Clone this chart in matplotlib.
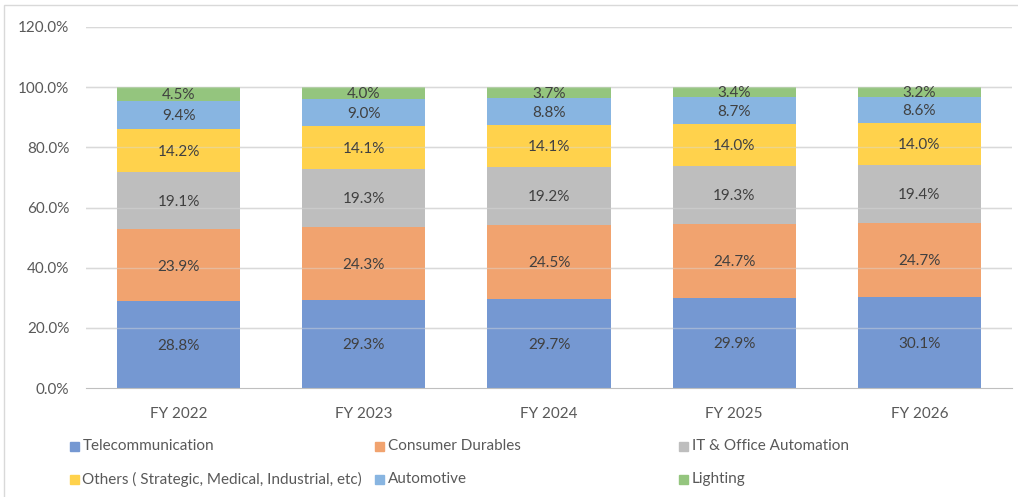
import matplotlib
matplotlib.use("Agg")
import matplotlib.pyplot as plt
from matplotlib.patches import Rectangle
import numpy as np

categories = ["FY 2022", "FY 2023", "FY 2024", "FY 2025", "FY 2026"]
series_names = ["Telecommunication", "Consumer Durables", "IT & Office Automation",
                "Others ( Strategic, Medical, Industrial, etc)", "Automotive", "Lighting"]
telecom = [28.8, 29.3, 29.7, 29.9, 30.1]
consumer = [23.9, 24.3, 24.5, 24.7, 24.7]
it_office = [19.1, 19.3, 19.2, 19.3, 19.4]
others = [14.2, 14.1, 14.1, 14.0, 14.0]
automotive = [9.4, 9.0, 8.8, 8.7, 8.6]
lighting = [4.5, 4.0, 3.7, 3.4, 3.2]
y_ticks = [0, 20, 40, 60, 80, 100, 120]

colors = ["#7598D2", "#F1A36F", "#BEBEBE", "#FFD24C", "#88B5E1", "#94C57E"]
series = [telecom, consumer, it_office, others, automotive, lighting]

plt.rcParams['font.family'] = ['Lato', 'DejaVu Sans']

fig = plt.figure(figsize=(10.18, 4.97), dpi=100)
ax = fig.add_axes([86/1018, 1-388/497, (1012-86)/1018, (388-27)/497])

x = np.arange(len(categories))
bottom = np.zeros(len(categories))
for vals, col, name in zip(series, colors, series_names):
    v = np.array(vals)
    ax.bar(x, v, 0.665, bottom=bottom, color=col, zorder=2, label=name)
    for xi, b, val in zip(x, bottom, v):
        ax.text(xi, b + val/2 - 0.4, f"{val:.1f}%", ha='center', va='center',
                fontsize=11, color='#404040', zorder=4)
    bottom = bottom + v

ax.set_xlim(-0.5, len(categories)-0.5)
ax.set_ylim(0, 120)
ax.set_yticks(y_ticks)
ax.set_yticklabels([f"{t:.1f}%" for t in y_ticks])
ax.set_xticks(x)
ax.set_xticklabels(categories)
ax.tick_params(axis='both', length=0, labelsize=11, colors='#595959')
ax.tick_params(axis='y', pad=12)
ax.tick_params(axis='x', pad=14)
for t in y_ticks[1:]:
    ax.axhline(t, color='#D9D9D9', lw=1, zorder=3, alpha=0.45)
    ax.axhline(t, color='#D9D9D9', lw=1, zorder=1)
for s in ['top', 'right', 'left']:
    ax.spines[s].set_visible(False)
ax.spines['bottom'].set_color('#BFBFBF')
ax.spines['bottom'].set_zorder(3)

# outer chart border
fig.patches.append(Rectangle((4/1018, -0.01), 1.02, 1-5/497+0.01, transform=fig.transFigure,
                             fill=False, edgecolor='#D9D9D9', lw=1))

# legend
leg_pos = [(74, 446), (379, 446), (683, 446), (74, 479), (379, 479), (683, 479)]
for (px, py), col, name in zip(leg_pos, colors, series_names):
    fig.patches.append(Rectangle(((px-4.5)/1018, 1-(py+4.5)/497), 9/1018, 9/497,
                                 transform=fig.transFigure, color=col))
    fig.text((px+8.5)/1018, 1-py/497, name, ha='left', va='center', fontsize=11, color='#595959')

fig.savefig("out.png", dpi=100)
